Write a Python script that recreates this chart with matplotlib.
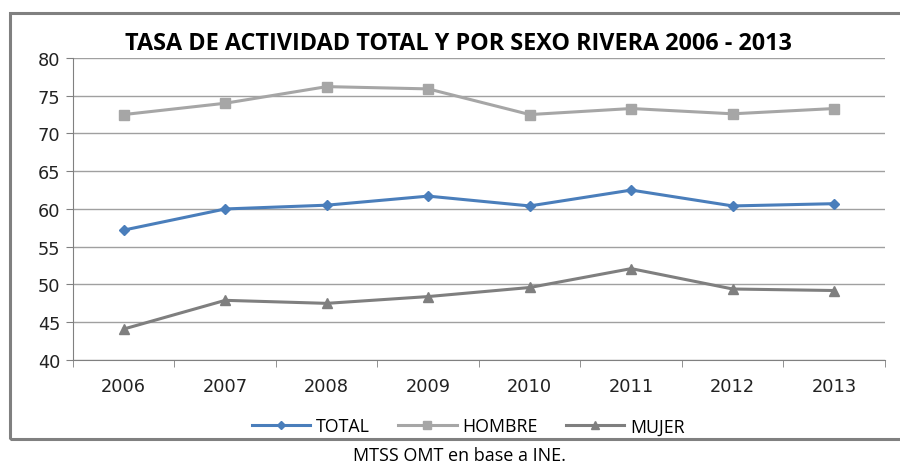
import matplotlib
matplotlib.use('Agg')
import matplotlib.pyplot as plt
from matplotlib.patches import Rectangle

years = ['2006', '2007', '2008', '2009', '2010', '2011', '2012', '2013']
total = [57.2, 60.0, 60.5, 61.7, 60.4, 62.5, 60.4, 60.7]
hombre = [72.5, 74.0, 76.2, 75.9, 72.5, 73.3, 72.6, 73.3]
mujer = [44.1, 47.9, 47.5, 48.4, 49.6, 52.1, 49.4, 49.2]

fig = plt.figure(figsize=(9, 4.64), dpi=100)
ax = fig.add_axes([0.0811, 0.222, 0.9022, 0.651])

# outer chart frame (right side cut off like the original)
fig.patches.append(Rectangle((0.011, 0.052), 1.2, 0.918, transform=fig.transFigure,
                             fill=False, edgecolor='#808080', linewidth=2.2))

x = range(len(years))
ax.plot(x, total, color='#4a7ebb', lw=2.2, marker='D', ms=5, label='TOTAL')
ax.plot(x, hombre, color='#a6a6a6', lw=2.2, marker='s', ms=7, label='HOMBRE')
ax.plot(x, mujer, color='#7f7f7f', lw=2.2, marker='^', ms=7, label='MUJER')

ax.set_xlim(-0.5, len(years) - 0.5)
ax.set_ylim(40, 80)
ax.set_yticks(range(40, 81, 5))
ax.set_xticks(x)
ax.set_xticklabels(years)
ax.set_xticks([i - 0.5 for i in range(len(years) + 1)], minor=True)
ax.tick_params(axis='x', which='major', length=0, pad=12, labelsize=12.8, labelcolor='#222222')
ax.tick_params(axis='x', which='minor', length=5, color='#808080', direction='out')
ax.tick_params(axis='y', length=5, color='#808080', labelsize=12.8, labelcolor='#222222', pad=4)
for lbl in ax.get_xticklabels() + ax.get_yticklabels():
    lbl.set_family('DejaVu Sans')

ax.grid(axis='y', color='#a0a0a0', lw=1)
ax.set_axisbelow(True)
for s in ['top', 'right']:
    ax.spines[s].set_visible(False)
for s in ['left', 'bottom']:
    ax.spines[s].set_color('#808080')

fig.text(0.509, 0.905, 'TASA DE ACTIVIDAD TOTAL Y POR SEXO RIVERA 2006 - 2013',
         ha='center', va='center', fontsize=16.8, fontweight='bold', family='Open Sans')

fig.legend(loc='center', bbox_to_anchor=(0.52, 0.079), ncol=3, frameon=False,
           prop={'family': 'Open Sans', 'size': 12.8}, handlelength=3.3,
           columnspacing=1.6, handletextpad=0.3, markerscale=0.8)

fig.text(0.511, 0.018, 'MTSS OMT en base a INE.', ha='center', va='center',
         fontsize=13, family='Open Sans')

fig.savefig('out.png', dpi=100)
